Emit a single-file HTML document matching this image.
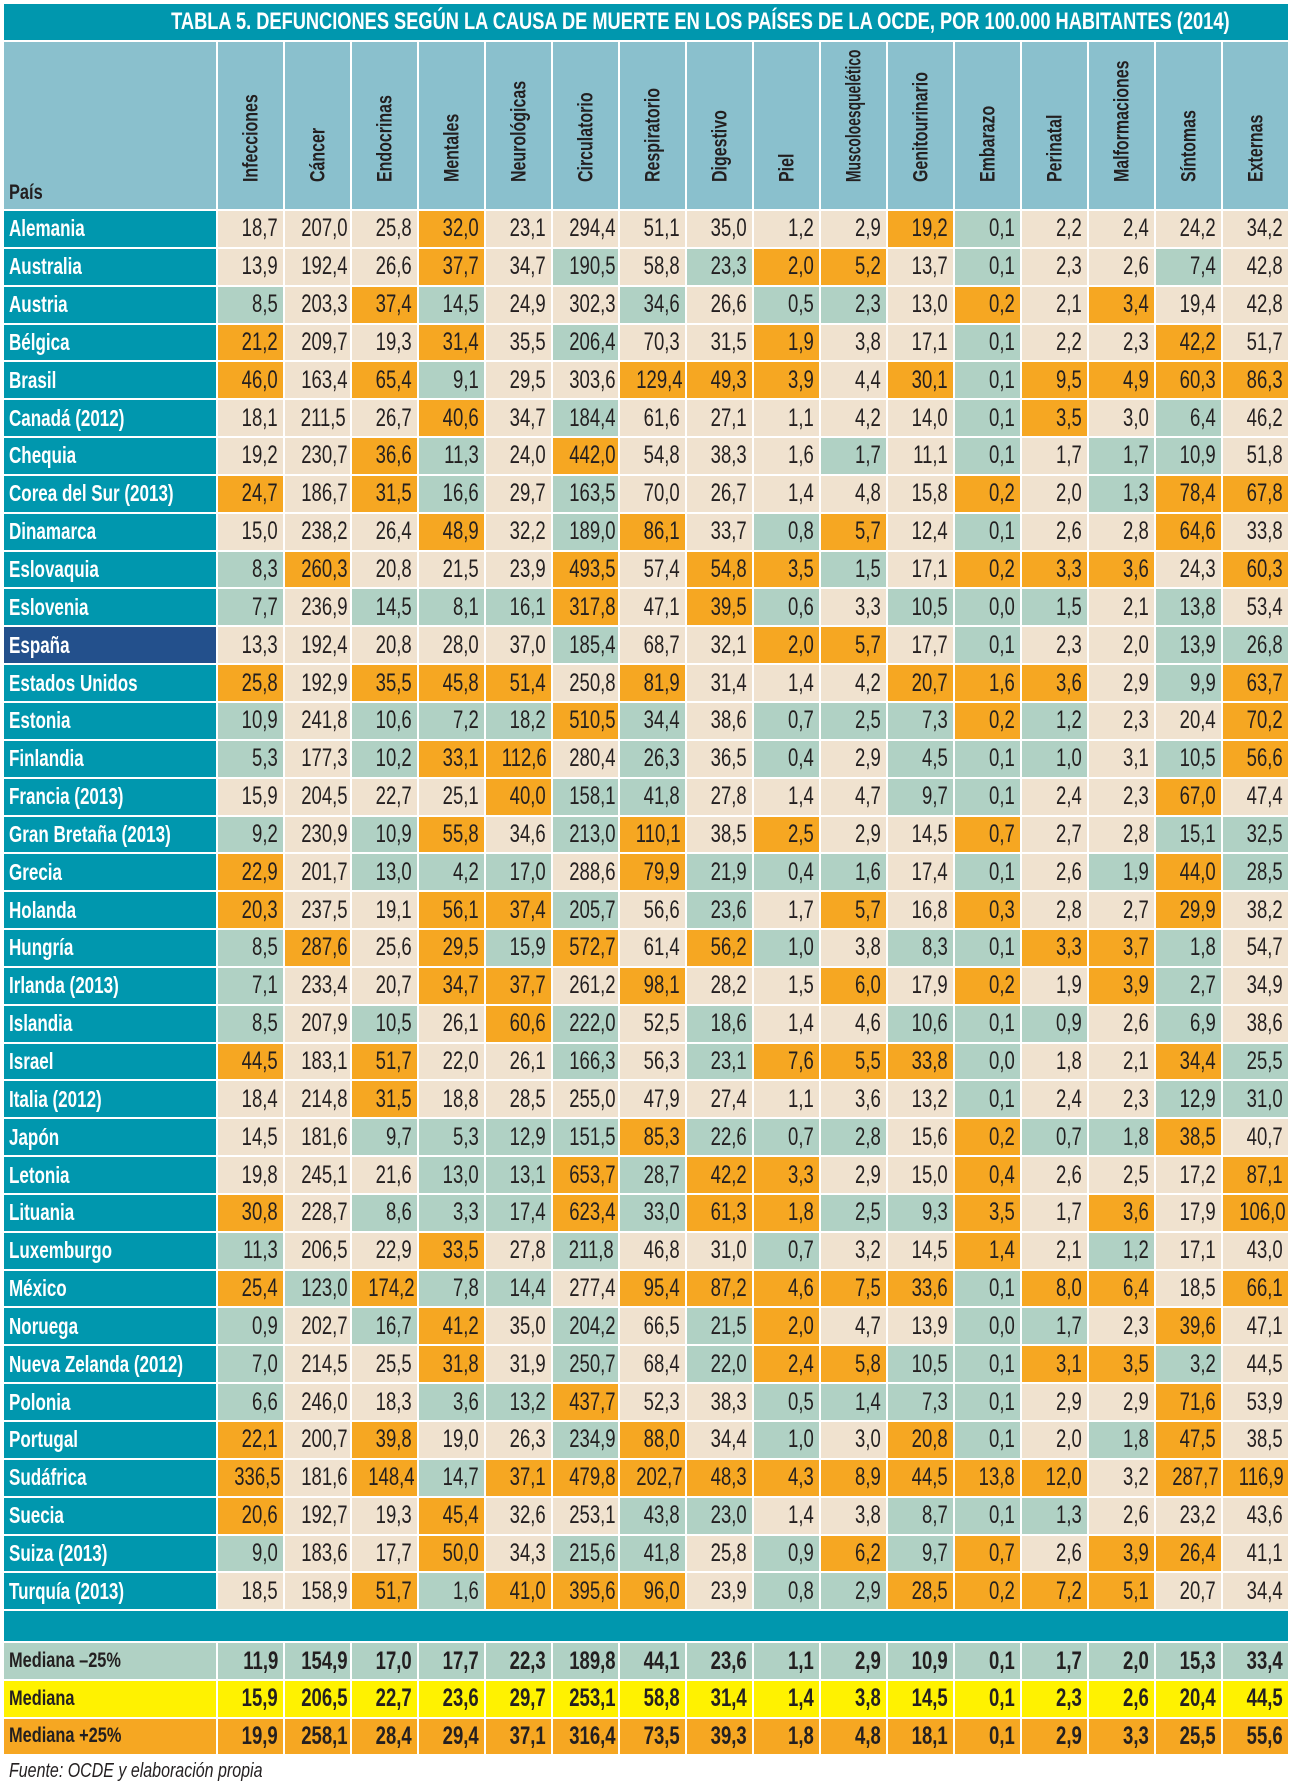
<!DOCTYPE html>
<html><head><meta charset="utf-8">
<style>
html,body{margin:0;padding:0;background:#fff;width:1293px;height:1787px;overflow:hidden}
body{position:relative;font-family:"Liberation Sans",sans-serif;color:#231f20}
#title{position:absolute;left:4px;top:4px;width:1284px;height:36px;background:#0097ae;color:#fff;font-weight:bold;font-size:24px;line-height:36px;text-align:center}
#title span{display:inline-block;transform:scaleX(.76);white-space:nowrap}
table{position:absolute;left:2px;top:40px;width:1288px;border-collapse:separate;border-spacing:2px;table-layout:fixed}
td,th{padding:0;overflow:hidden;white-space:nowrap}
col.c{width:212px}col.d{width:65px}
tr.r td,tr.r th{height:35.85px}
th.n{background:#0097ae;color:#fff;text-align:left;font-size:23px;padding-left:5px}
th.n i,td i{font-style:normal;display:inline-block;transform:scaleX(.74)}
th.n i{transform-origin:left center}
td{text-align:right;padding-right:5px;font-size:25px}
td i{transform-origin:right center}
.b{background:#f0e2cf}.o{background:#f6a722}.g{background:#b0d1c4}
th.es{background:#23508c}
tr.h th{height:163px;background:#8ac0cd;position:relative;vertical-align:bottom}
tr.h th.p{text-align:left;font-size:21px;padding-left:5px;padding-bottom:4px}
tr.h th.p i{font-style:normal;display:inline-block;transform:scaleX(.78);transform-origin:left}
tr.h th div{position:absolute;left:50%;bottom:6px;width:0;height:0}
tr.h th div span{position:absolute;left:0;bottom:0;transform-origin:0 0;transform:rotate(-90deg) scaleX(.76) translate(0,-50%);white-space:nowrap;font-size:21px;font-weight:bold;line-height:21px}
tr.h th div span.sm{transform:rotate(-90deg) scaleX(.66) translate(0,-50%)}
tr.band td{height:30px;background:#0097ae}
tr.m td,tr.m th{height:35.7px;font-weight:bold}
tr.m th{text-align:left;font-size:21px;padding-left:5px;color:#231f20}
tr.m th i{font-style:normal;display:inline-block;transform:scaleX(.78);transform-origin:left}
.y{background:#fff200}
#src{position:absolute;left:9px;top:1760px;font-style:italic;font-size:20px}
#src span{display:inline-block;transform:scaleX(.8);transform-origin:left}
</style></head><body>
<div id="title"><span>TABLA 5. DEFUNCIONES SEGÚN LA CAUSA DE MUERTE EN LOS PAÍSES DE LA OCDE, POR 100.000 HABITANTES (2014)</span></div>
<table>
<colgroup><col class="c"><col class="d"><col class="d"><col class="d"><col class="d"><col class="d"><col class="d"><col class="d"><col class="d"><col class="d"><col class="d"><col class="d"><col class="d"><col class="d"><col class="d"><col class="d"><col class="d"></colgroup>
<tr class="h"><th class="p"><i>País</i></th>
<th><div><span>Infecciones</span></div></th>
<th><div><span>Cáncer</span></div></th>
<th><div><span>Endocrinas</span></div></th>
<th><div><span>Mentales</span></div></th>
<th><div><span>Neurológicas</span></div></th>
<th><div><span>Circulatorio</span></div></th>
<th><div><span>Respiratorio</span></div></th>
<th><div><span>Digestivo</span></div></th>
<th><div><span>Piel</span></div></th>
<th><div><span class="sm">Muscoloesquelético</span></div></th>
<th><div><span>Genitourinario</span></div></th>
<th><div><span>Embarazo</span></div></th>
<th><div><span>Perinatal</span></div></th>
<th><div><span>Malformaciones</span></div></th>
<th><div><span>Síntomas</span></div></th>
<th><div><span>Externas</span></div></th></tr>
<tr class="r"><th class="n"><i>Alemania</i></th><td class="b"><i>18,7</i></td><td class="b"><i>207,0</i></td><td class="b"><i>25,8</i></td><td class="o"><i>32,0</i></td><td class="b"><i>23,1</i></td><td class="b"><i>294,4</i></td><td class="b"><i>51,1</i></td><td class="b"><i>35,0</i></td><td class="b"><i>1,2</i></td><td class="b"><i>2,9</i></td><td class="o"><i>19,2</i></td><td class="g"><i>0,1</i></td><td class="b"><i>2,2</i></td><td class="b"><i>2,4</i></td><td class="b"><i>24,2</i></td><td class="b"><i>34,2</i></td></tr>
<tr class="r"><th class="n"><i>Australia</i></th><td class="b"><i>13,9</i></td><td class="b"><i>192,4</i></td><td class="b"><i>26,6</i></td><td class="o"><i>37,7</i></td><td class="b"><i>34,7</i></td><td class="g"><i>190,5</i></td><td class="b"><i>58,8</i></td><td class="g"><i>23,3</i></td><td class="o"><i>2,0</i></td><td class="o"><i>5,2</i></td><td class="b"><i>13,7</i></td><td class="g"><i>0,1</i></td><td class="b"><i>2,3</i></td><td class="b"><i>2,6</i></td><td class="g"><i>7,4</i></td><td class="b"><i>42,8</i></td></tr>
<tr class="r"><th class="n"><i>Austria</i></th><td class="g"><i>8,5</i></td><td class="b"><i>203,3</i></td><td class="o"><i>37,4</i></td><td class="g"><i>14,5</i></td><td class="b"><i>24,9</i></td><td class="b"><i>302,3</i></td><td class="g"><i>34,6</i></td><td class="b"><i>26,6</i></td><td class="g"><i>0,5</i></td><td class="g"><i>2,3</i></td><td class="b"><i>13,0</i></td><td class="o"><i>0,2</i></td><td class="b"><i>2,1</i></td><td class="o"><i>3,4</i></td><td class="b"><i>19,4</i></td><td class="b"><i>42,8</i></td></tr>
<tr class="r"><th class="n"><i>Bélgica</i></th><td class="o"><i>21,2</i></td><td class="b"><i>209,7</i></td><td class="b"><i>19,3</i></td><td class="o"><i>31,4</i></td><td class="b"><i>35,5</i></td><td class="g"><i>206,4</i></td><td class="b"><i>70,3</i></td><td class="b"><i>31,5</i></td><td class="o"><i>1,9</i></td><td class="b"><i>3,8</i></td><td class="b"><i>17,1</i></td><td class="g"><i>0,1</i></td><td class="b"><i>2,2</i></td><td class="b"><i>2,3</i></td><td class="o"><i>42,2</i></td><td class="b"><i>51,7</i></td></tr>
<tr class="r"><th class="n"><i>Brasil</i></th><td class="o"><i>46,0</i></td><td class="b"><i>163,4</i></td><td class="o"><i>65,4</i></td><td class="g"><i>9,1</i></td><td class="b"><i>29,5</i></td><td class="b"><i>303,6</i></td><td class="o"><i>129,4</i></td><td class="o"><i>49,3</i></td><td class="o"><i>3,9</i></td><td class="b"><i>4,4</i></td><td class="o"><i>30,1</i></td><td class="g"><i>0,1</i></td><td class="o"><i>9,5</i></td><td class="o"><i>4,9</i></td><td class="o"><i>60,3</i></td><td class="o"><i>86,3</i></td></tr>
<tr class="r"><th class="n"><i>Canadá (2012)</i></th><td class="b"><i>18,1</i></td><td class="b"><i>211,5</i></td><td class="b"><i>26,7</i></td><td class="o"><i>40,6</i></td><td class="b"><i>34,7</i></td><td class="g"><i>184,4</i></td><td class="b"><i>61,6</i></td><td class="b"><i>27,1</i></td><td class="b"><i>1,1</i></td><td class="b"><i>4,2</i></td><td class="b"><i>14,0</i></td><td class="g"><i>0,1</i></td><td class="o"><i>3,5</i></td><td class="b"><i>3,0</i></td><td class="g"><i>6,4</i></td><td class="b"><i>46,2</i></td></tr>
<tr class="r"><th class="n"><i>Chequia</i></th><td class="b"><i>19,2</i></td><td class="b"><i>230,7</i></td><td class="o"><i>36,6</i></td><td class="g"><i>11,3</i></td><td class="b"><i>24,0</i></td><td class="o"><i>442,0</i></td><td class="b"><i>54,8</i></td><td class="b"><i>38,3</i></td><td class="b"><i>1,6</i></td><td class="g"><i>1,7</i></td><td class="b"><i>11,1</i></td><td class="g"><i>0,1</i></td><td class="b"><i>1,7</i></td><td class="g"><i>1,7</i></td><td class="g"><i>10,9</i></td><td class="b"><i>51,8</i></td></tr>
<tr class="r"><th class="n"><i>Corea del Sur (2013)</i></th><td class="o"><i>24,7</i></td><td class="b"><i>186,7</i></td><td class="o"><i>31,5</i></td><td class="g"><i>16,6</i></td><td class="b"><i>29,7</i></td><td class="g"><i>163,5</i></td><td class="b"><i>70,0</i></td><td class="b"><i>26,7</i></td><td class="b"><i>1,4</i></td><td class="b"><i>4,8</i></td><td class="b"><i>15,8</i></td><td class="o"><i>0,2</i></td><td class="b"><i>2,0</i></td><td class="g"><i>1,3</i></td><td class="o"><i>78,4</i></td><td class="o"><i>67,8</i></td></tr>
<tr class="r"><th class="n"><i>Dinamarca</i></th><td class="b"><i>15,0</i></td><td class="b"><i>238,2</i></td><td class="b"><i>26,4</i></td><td class="o"><i>48,9</i></td><td class="b"><i>32,2</i></td><td class="g"><i>189,0</i></td><td class="o"><i>86,1</i></td><td class="b"><i>33,7</i></td><td class="g"><i>0,8</i></td><td class="o"><i>5,7</i></td><td class="b"><i>12,4</i></td><td class="g"><i>0,1</i></td><td class="b"><i>2,6</i></td><td class="b"><i>2,8</i></td><td class="o"><i>64,6</i></td><td class="b"><i>33,8</i></td></tr>
<tr class="r"><th class="n"><i>Eslovaquia</i></th><td class="g"><i>8,3</i></td><td class="o"><i>260,3</i></td><td class="b"><i>20,8</i></td><td class="b"><i>21,5</i></td><td class="b"><i>23,9</i></td><td class="o"><i>493,5</i></td><td class="b"><i>57,4</i></td><td class="o"><i>54,8</i></td><td class="o"><i>3,5</i></td><td class="g"><i>1,5</i></td><td class="b"><i>17,1</i></td><td class="o"><i>0,2</i></td><td class="o"><i>3,3</i></td><td class="o"><i>3,6</i></td><td class="b"><i>24,3</i></td><td class="o"><i>60,3</i></td></tr>
<tr class="r"><th class="n"><i>Eslovenia</i></th><td class="g"><i>7,7</i></td><td class="b"><i>236,9</i></td><td class="g"><i>14,5</i></td><td class="g"><i>8,1</i></td><td class="g"><i>16,1</i></td><td class="o"><i>317,8</i></td><td class="b"><i>47,1</i></td><td class="o"><i>39,5</i></td><td class="g"><i>0,6</i></td><td class="b"><i>3,3</i></td><td class="g"><i>10,5</i></td><td class="g"><i>0,0</i></td><td class="g"><i>1,5</i></td><td class="b"><i>2,1</i></td><td class="g"><i>13,8</i></td><td class="b"><i>53,4</i></td></tr>
<tr class="r"><th class="n es"><i>España</i></th><td class="b"><i>13,3</i></td><td class="b"><i>192,4</i></td><td class="b"><i>20,8</i></td><td class="b"><i>28,0</i></td><td class="b"><i>37,0</i></td><td class="g"><i>185,4</i></td><td class="b"><i>68,7</i></td><td class="b"><i>32,1</i></td><td class="o"><i>2,0</i></td><td class="o"><i>5,7</i></td><td class="b"><i>17,7</i></td><td class="g"><i>0,1</i></td><td class="b"><i>2,3</i></td><td class="b"><i>2,0</i></td><td class="g"><i>13,9</i></td><td class="g"><i>26,8</i></td></tr>
<tr class="r"><th class="n"><i>Estados Unidos</i></th><td class="o"><i>25,8</i></td><td class="b"><i>192,9</i></td><td class="o"><i>35,5</i></td><td class="o"><i>45,8</i></td><td class="o"><i>51,4</i></td><td class="b"><i>250,8</i></td><td class="o"><i>81,9</i></td><td class="b"><i>31,4</i></td><td class="b"><i>1,4</i></td><td class="b"><i>4,2</i></td><td class="o"><i>20,7</i></td><td class="o"><i>1,6</i></td><td class="o"><i>3,6</i></td><td class="b"><i>2,9</i></td><td class="g"><i>9,9</i></td><td class="o"><i>63,7</i></td></tr>
<tr class="r"><th class="n"><i>Estonia</i></th><td class="g"><i>10,9</i></td><td class="b"><i>241,8</i></td><td class="g"><i>10,6</i></td><td class="g"><i>7,2</i></td><td class="g"><i>18,2</i></td><td class="o"><i>510,5</i></td><td class="g"><i>34,4</i></td><td class="b"><i>38,6</i></td><td class="g"><i>0,7</i></td><td class="g"><i>2,5</i></td><td class="g"><i>7,3</i></td><td class="o"><i>0,2</i></td><td class="g"><i>1,2</i></td><td class="b"><i>2,3</i></td><td class="b"><i>20,4</i></td><td class="o"><i>70,2</i></td></tr>
<tr class="r"><th class="n"><i>Finlandia</i></th><td class="g"><i>5,3</i></td><td class="b"><i>177,3</i></td><td class="g"><i>10,2</i></td><td class="o"><i>33,1</i></td><td class="o"><i>112,6</i></td><td class="b"><i>280,4</i></td><td class="g"><i>26,3</i></td><td class="b"><i>36,5</i></td><td class="g"><i>0,4</i></td><td class="b"><i>2,9</i></td><td class="g"><i>4,5</i></td><td class="g"><i>0,1</i></td><td class="g"><i>1,0</i></td><td class="b"><i>3,1</i></td><td class="g"><i>10,5</i></td><td class="o"><i>56,6</i></td></tr>
<tr class="r"><th class="n"><i>Francia (2013)</i></th><td class="b"><i>15,9</i></td><td class="b"><i>204,5</i></td><td class="b"><i>22,7</i></td><td class="b"><i>25,1</i></td><td class="o"><i>40,0</i></td><td class="g"><i>158,1</i></td><td class="g"><i>41,8</i></td><td class="b"><i>27,8</i></td><td class="b"><i>1,4</i></td><td class="b"><i>4,7</i></td><td class="g"><i>9,7</i></td><td class="g"><i>0,1</i></td><td class="b"><i>2,4</i></td><td class="b"><i>2,3</i></td><td class="o"><i>67,0</i></td><td class="b"><i>47,4</i></td></tr>
<tr class="r"><th class="n"><i>Gran Bretaña (2013)</i></th><td class="g"><i>9,2</i></td><td class="b"><i>230,9</i></td><td class="g"><i>10,9</i></td><td class="o"><i>55,8</i></td><td class="b"><i>34,6</i></td><td class="g"><i>213,0</i></td><td class="o"><i>110,1</i></td><td class="b"><i>38,5</i></td><td class="o"><i>2,5</i></td><td class="b"><i>2,9</i></td><td class="b"><i>14,5</i></td><td class="o"><i>0,7</i></td><td class="b"><i>2,7</i></td><td class="b"><i>2,8</i></td><td class="g"><i>15,1</i></td><td class="g"><i>32,5</i></td></tr>
<tr class="r"><th class="n"><i>Grecia</i></th><td class="o"><i>22,9</i></td><td class="b"><i>201,7</i></td><td class="g"><i>13,0</i></td><td class="g"><i>4,2</i></td><td class="g"><i>17,0</i></td><td class="b"><i>288,6</i></td><td class="o"><i>79,9</i></td><td class="g"><i>21,9</i></td><td class="g"><i>0,4</i></td><td class="g"><i>1,6</i></td><td class="b"><i>17,4</i></td><td class="g"><i>0,1</i></td><td class="b"><i>2,6</i></td><td class="g"><i>1,9</i></td><td class="o"><i>44,0</i></td><td class="g"><i>28,5</i></td></tr>
<tr class="r"><th class="n"><i>Holanda</i></th><td class="o"><i>20,3</i></td><td class="b"><i>237,5</i></td><td class="b"><i>19,1</i></td><td class="o"><i>56,1</i></td><td class="o"><i>37,4</i></td><td class="g"><i>205,7</i></td><td class="b"><i>56,6</i></td><td class="g"><i>23,6</i></td><td class="b"><i>1,7</i></td><td class="o"><i>5,7</i></td><td class="b"><i>16,8</i></td><td class="o"><i>0,3</i></td><td class="b"><i>2,8</i></td><td class="b"><i>2,7</i></td><td class="o"><i>29,9</i></td><td class="b"><i>38,2</i></td></tr>
<tr class="r"><th class="n"><i>Hungría</i></th><td class="g"><i>8,5</i></td><td class="o"><i>287,6</i></td><td class="b"><i>25,6</i></td><td class="o"><i>29,5</i></td><td class="g"><i>15,9</i></td><td class="o"><i>572,7</i></td><td class="b"><i>61,4</i></td><td class="o"><i>56,2</i></td><td class="g"><i>1,0</i></td><td class="b"><i>3,8</i></td><td class="g"><i>8,3</i></td><td class="g"><i>0,1</i></td><td class="o"><i>3,3</i></td><td class="o"><i>3,7</i></td><td class="g"><i>1,8</i></td><td class="b"><i>54,7</i></td></tr>
<tr class="r"><th class="n"><i>Irlanda (2013)</i></th><td class="g"><i>7,1</i></td><td class="b"><i>233,4</i></td><td class="b"><i>20,7</i></td><td class="o"><i>34,7</i></td><td class="o"><i>37,7</i></td><td class="b"><i>261,2</i></td><td class="o"><i>98,1</i></td><td class="b"><i>28,2</i></td><td class="b"><i>1,5</i></td><td class="o"><i>6,0</i></td><td class="b"><i>17,9</i></td><td class="o"><i>0,2</i></td><td class="b"><i>1,9</i></td><td class="o"><i>3,9</i></td><td class="g"><i>2,7</i></td><td class="b"><i>34,9</i></td></tr>
<tr class="r"><th class="n"><i>Islandia</i></th><td class="g"><i>8,5</i></td><td class="b"><i>207,9</i></td><td class="g"><i>10,5</i></td><td class="b"><i>26,1</i></td><td class="o"><i>60,6</i></td><td class="g"><i>222,0</i></td><td class="b"><i>52,5</i></td><td class="g"><i>18,6</i></td><td class="b"><i>1,4</i></td><td class="b"><i>4,6</i></td><td class="g"><i>10,6</i></td><td class="g"><i>0,1</i></td><td class="g"><i>0,9</i></td><td class="b"><i>2,6</i></td><td class="g"><i>6,9</i></td><td class="b"><i>38,6</i></td></tr>
<tr class="r"><th class="n"><i>Israel</i></th><td class="o"><i>44,5</i></td><td class="b"><i>183,1</i></td><td class="o"><i>51,7</i></td><td class="b"><i>22,0</i></td><td class="b"><i>26,1</i></td><td class="g"><i>166,3</i></td><td class="b"><i>56,3</i></td><td class="g"><i>23,1</i></td><td class="o"><i>7,6</i></td><td class="o"><i>5,5</i></td><td class="o"><i>33,8</i></td><td class="g"><i>0,0</i></td><td class="b"><i>1,8</i></td><td class="b"><i>2,1</i></td><td class="o"><i>34,4</i></td><td class="g"><i>25,5</i></td></tr>
<tr class="r"><th class="n"><i>Italia (2012)</i></th><td class="b"><i>18,4</i></td><td class="b"><i>214,8</i></td><td class="o"><i>31,5</i></td><td class="b"><i>18,8</i></td><td class="b"><i>28,5</i></td><td class="b"><i>255,0</i></td><td class="b"><i>47,9</i></td><td class="b"><i>27,4</i></td><td class="b"><i>1,1</i></td><td class="b"><i>3,6</i></td><td class="b"><i>13,2</i></td><td class="g"><i>0,1</i></td><td class="b"><i>2,4</i></td><td class="b"><i>2,3</i></td><td class="g"><i>12,9</i></td><td class="g"><i>31,0</i></td></tr>
<tr class="r"><th class="n"><i>Japón</i></th><td class="b"><i>14,5</i></td><td class="b"><i>181,6</i></td><td class="g"><i>9,7</i></td><td class="g"><i>5,3</i></td><td class="g"><i>12,9</i></td><td class="g"><i>151,5</i></td><td class="o"><i>85,3</i></td><td class="g"><i>22,6</i></td><td class="g"><i>0,7</i></td><td class="g"><i>2,8</i></td><td class="b"><i>15,6</i></td><td class="o"><i>0,2</i></td><td class="g"><i>0,7</i></td><td class="g"><i>1,8</i></td><td class="o"><i>38,5</i></td><td class="b"><i>40,7</i></td></tr>
<tr class="r"><th class="n"><i>Letonia</i></th><td class="b"><i>19,8</i></td><td class="b"><i>245,1</i></td><td class="b"><i>21,6</i></td><td class="g"><i>13,0</i></td><td class="g"><i>13,1</i></td><td class="o"><i>653,7</i></td><td class="g"><i>28,7</i></td><td class="o"><i>42,2</i></td><td class="o"><i>3,3</i></td><td class="b"><i>2,9</i></td><td class="b"><i>15,0</i></td><td class="o"><i>0,4</i></td><td class="b"><i>2,6</i></td><td class="b"><i>2,5</i></td><td class="b"><i>17,2</i></td><td class="o"><i>87,1</i></td></tr>
<tr class="r"><th class="n"><i>Lituania</i></th><td class="o"><i>30,8</i></td><td class="b"><i>228,7</i></td><td class="g"><i>8,6</i></td><td class="g"><i>3,3</i></td><td class="g"><i>17,4</i></td><td class="o"><i>623,4</i></td><td class="g"><i>33,0</i></td><td class="o"><i>61,3</i></td><td class="o"><i>1,8</i></td><td class="g"><i>2,5</i></td><td class="g"><i>9,3</i></td><td class="o"><i>3,5</i></td><td class="b"><i>1,7</i></td><td class="o"><i>3,6</i></td><td class="b"><i>17,9</i></td><td class="o"><i>106,0</i></td></tr>
<tr class="r"><th class="n"><i>Luxemburgo</i></th><td class="g"><i>11,3</i></td><td class="b"><i>206,5</i></td><td class="b"><i>22,9</i></td><td class="o"><i>33,5</i></td><td class="b"><i>27,8</i></td><td class="g"><i>211,8</i></td><td class="b"><i>46,8</i></td><td class="b"><i>31,0</i></td><td class="g"><i>0,7</i></td><td class="b"><i>3,2</i></td><td class="b"><i>14,5</i></td><td class="o"><i>1,4</i></td><td class="b"><i>2,1</i></td><td class="g"><i>1,2</i></td><td class="b"><i>17,1</i></td><td class="b"><i>43,0</i></td></tr>
<tr class="r"><th class="n"><i>México</i></th><td class="o"><i>25,4</i></td><td class="g"><i>123,0</i></td><td class="o"><i>174,2</i></td><td class="g"><i>7,8</i></td><td class="g"><i>14,4</i></td><td class="b"><i>277,4</i></td><td class="o"><i>95,4</i></td><td class="o"><i>87,2</i></td><td class="o"><i>4,6</i></td><td class="o"><i>7,5</i></td><td class="o"><i>33,6</i></td><td class="g"><i>0,1</i></td><td class="o"><i>8,0</i></td><td class="o"><i>6,4</i></td><td class="b"><i>18,5</i></td><td class="o"><i>66,1</i></td></tr>
<tr class="r"><th class="n"><i>Noruega</i></th><td class="g"><i>0,9</i></td><td class="b"><i>202,7</i></td><td class="g"><i>16,7</i></td><td class="o"><i>41,2</i></td><td class="b"><i>35,0</i></td><td class="g"><i>204,2</i></td><td class="b"><i>66,5</i></td><td class="g"><i>21,5</i></td><td class="o"><i>2,0</i></td><td class="b"><i>4,7</i></td><td class="b"><i>13,9</i></td><td class="g"><i>0,0</i></td><td class="g"><i>1,7</i></td><td class="b"><i>2,3</i></td><td class="o"><i>39,6</i></td><td class="b"><i>47,1</i></td></tr>
<tr class="r"><th class="n"><i>Nueva Zelanda (2012)</i></th><td class="g"><i>7,0</i></td><td class="b"><i>214,5</i></td><td class="b"><i>25,5</i></td><td class="o"><i>31,8</i></td><td class="b"><i>31,9</i></td><td class="g"><i>250,7</i></td><td class="b"><i>68,4</i></td><td class="g"><i>22,0</i></td><td class="o"><i>2,4</i></td><td class="o"><i>5,8</i></td><td class="g"><i>10,5</i></td><td class="g"><i>0,1</i></td><td class="o"><i>3,1</i></td><td class="o"><i>3,5</i></td><td class="g"><i>3,2</i></td><td class="b"><i>44,5</i></td></tr>
<tr class="r"><th class="n"><i>Polonia</i></th><td class="g"><i>6,6</i></td><td class="b"><i>246,0</i></td><td class="b"><i>18,3</i></td><td class="g"><i>3,6</i></td><td class="g"><i>13,2</i></td><td class="o"><i>437,7</i></td><td class="b"><i>52,3</i></td><td class="b"><i>38,3</i></td><td class="g"><i>0,5</i></td><td class="g"><i>1,4</i></td><td class="g"><i>7,3</i></td><td class="g"><i>0,1</i></td><td class="b"><i>2,9</i></td><td class="b"><i>2,9</i></td><td class="o"><i>71,6</i></td><td class="b"><i>53,9</i></td></tr>
<tr class="r"><th class="n"><i>Portugal</i></th><td class="o"><i>22,1</i></td><td class="b"><i>200,7</i></td><td class="o"><i>39,8</i></td><td class="b"><i>19,0</i></td><td class="b"><i>26,3</i></td><td class="g"><i>234,9</i></td><td class="o"><i>88,0</i></td><td class="b"><i>34,4</i></td><td class="g"><i>1,0</i></td><td class="b"><i>3,0</i></td><td class="o"><i>20,8</i></td><td class="g"><i>0,1</i></td><td class="b"><i>2,0</i></td><td class="g"><i>1,8</i></td><td class="o"><i>47,5</i></td><td class="b"><i>38,5</i></td></tr>
<tr class="r"><th class="n"><i>Sudáfrica</i></th><td class="o"><i>336,5</i></td><td class="b"><i>181,6</i></td><td class="o"><i>148,4</i></td><td class="g"><i>14,7</i></td><td class="o"><i>37,1</i></td><td class="o"><i>479,8</i></td><td class="o"><i>202,7</i></td><td class="o"><i>48,3</i></td><td class="o"><i>4,3</i></td><td class="o"><i>8,9</i></td><td class="o"><i>44,5</i></td><td class="o"><i>13,8</i></td><td class="o"><i>12,0</i></td><td class="b"><i>3,2</i></td><td class="o"><i>287,7</i></td><td class="o"><i>116,9</i></td></tr>
<tr class="r"><th class="n"><i>Suecia</i></th><td class="o"><i>20,6</i></td><td class="b"><i>192,7</i></td><td class="b"><i>19,3</i></td><td class="o"><i>45,4</i></td><td class="b"><i>32,6</i></td><td class="b"><i>253,1</i></td><td class="g"><i>43,8</i></td><td class="g"><i>23,0</i></td><td class="b"><i>1,4</i></td><td class="b"><i>3,8</i></td><td class="g"><i>8,7</i></td><td class="g"><i>0,1</i></td><td class="g"><i>1,3</i></td><td class="b"><i>2,6</i></td><td class="b"><i>23,2</i></td><td class="b"><i>43,6</i></td></tr>
<tr class="r"><th class="n"><i>Suiza (2013)</i></th><td class="g"><i>9,0</i></td><td class="b"><i>183,6</i></td><td class="b"><i>17,7</i></td><td class="o"><i>50,0</i></td><td class="b"><i>34,3</i></td><td class="g"><i>215,6</i></td><td class="g"><i>41,8</i></td><td class="b"><i>25,8</i></td><td class="g"><i>0,9</i></td><td class="o"><i>6,2</i></td><td class="g"><i>9,7</i></td><td class="o"><i>0,7</i></td><td class="b"><i>2,6</i></td><td class="o"><i>3,9</i></td><td class="o"><i>26,4</i></td><td class="b"><i>41,1</i></td></tr>
<tr class="r"><th class="n"><i>Turquía (2013)</i></th><td class="b"><i>18,5</i></td><td class="b"><i>158,9</i></td><td class="o"><i>51,7</i></td><td class="g"><i>1,6</i></td><td class="o"><i>41,0</i></td><td class="o"><i>395,6</i></td><td class="o"><i>96,0</i></td><td class="b"><i>23,9</i></td><td class="g"><i>0,8</i></td><td class="g"><i>2,9</i></td><td class="o"><i>28,5</i></td><td class="o"><i>0,2</i></td><td class="o"><i>7,2</i></td><td class="o"><i>5,1</i></td><td class="b"><i>20,7</i></td><td class="b"><i>34,4</i></td></tr>
<tr class="band"><td colspan="17"></td></tr>
<tr class="m"><th class="g"><i>Mediana –25%</i></th><td class="g"><i>11,9</i></td><td class="g"><i>154,9</i></td><td class="g"><i>17,0</i></td><td class="g"><i>17,7</i></td><td class="g"><i>22,3</i></td><td class="g"><i>189,8</i></td><td class="g"><i>44,1</i></td><td class="g"><i>23,6</i></td><td class="g"><i>1,1</i></td><td class="g"><i>2,9</i></td><td class="g"><i>10,9</i></td><td class="g"><i>0,1</i></td><td class="g"><i>1,7</i></td><td class="g"><i>2,0</i></td><td class="g"><i>15,3</i></td><td class="g"><i>33,4</i></td></tr>
<tr class="m"><th class="y"><i>Mediana</i></th><td class="y"><i>15,9</i></td><td class="y"><i>206,5</i></td><td class="y"><i>22,7</i></td><td class="y"><i>23,6</i></td><td class="y"><i>29,7</i></td><td class="y"><i>253,1</i></td><td class="y"><i>58,8</i></td><td class="y"><i>31,4</i></td><td class="y"><i>1,4</i></td><td class="y"><i>3,8</i></td><td class="y"><i>14,5</i></td><td class="y"><i>0,1</i></td><td class="y"><i>2,3</i></td><td class="y"><i>2,6</i></td><td class="y"><i>20,4</i></td><td class="y"><i>44,5</i></td></tr>
<tr class="m"><th class="o"><i>Mediana +25%</i></th><td class="o"><i>19,9</i></td><td class="o"><i>258,1</i></td><td class="o"><i>28,4</i></td><td class="o"><i>29,4</i></td><td class="o"><i>37,1</i></td><td class="o"><i>316,4</i></td><td class="o"><i>73,5</i></td><td class="o"><i>39,3</i></td><td class="o"><i>1,8</i></td><td class="o"><i>4,8</i></td><td class="o"><i>18,1</i></td><td class="o"><i>0,1</i></td><td class="o"><i>2,9</i></td><td class="o"><i>3,3</i></td><td class="o"><i>25,5</i></td><td class="o"><i>55,6</i></td></tr>
</table>
<div id="src"><span>Fuente: OCDE y elaboración propia</span></div>
</body></html>
